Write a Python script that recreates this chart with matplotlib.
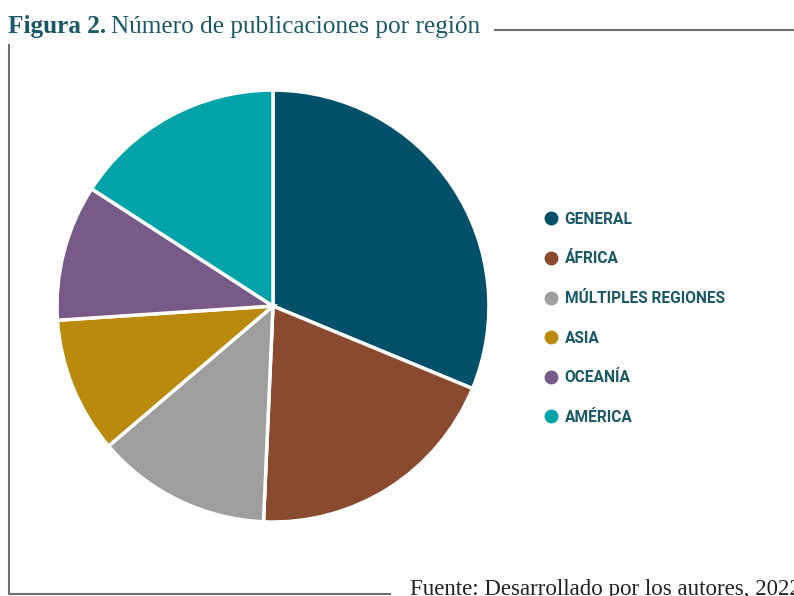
import matplotlib

matplotlib.use("Agg")

import matplotlib.pyplot as plt
from matplotlib.lines import Line2D

# datos (porcentaje aproximado por región)
regiones = ["GENERAL", "ÁFRICA", "MÚLTIPLES REGIONES", "ASIA", "OCEANÍA", "AMÉRICA"]
valores = [31.3, 19.5, 13.1, 10.2, 10.2, 15.9]
colores = ["#00506a", "#8a4a2f", "#9e9e9c", "#b98a0c", "#775a88", "#00a3a8"]

titulo_bold = "Figura 2."
titulo = "Número de publicaciones por región"
fuente = "Fuente: Desarrollado por los autores, 2022"

TEAL = "#1a5868"
GRIS = "#707070"

fig = plt.figure(figsize=(7.94, 5.96), dpi=100)

ax = fig.add_axes([0.0718, 0.124, 0.544, 0.725])
ax.pie(
	valores,
	colors=colores,
	startangle=90,
	counterclock=False,
	radius=1.0,
	wedgeprops=dict(edgecolor="white", linewidth=2.5),
)
ax.set_xlim(-1.0, 1.0)
ax.set_ylim(-1.0, 1.0)
ax.set_aspect("equal")
ax.axis("off")

handles = [
	Line2D([], [], marker="o", linestyle="none", markersize=9, markerfacecolor=c, markeredgecolor=c)
	for c in colores
]
leg = fig.legend(
	handles,
	regiones,
	loc="upper left",
	bbox_to_anchor=(0.669, 0.668),
	frameon=False,
	handlelength=0.8,
	handletextpad=0.45,
	labelspacing=1.58,
	prop=dict(family="Roboto", weight="bold", size=11.2),
)
for t in leg.get_texts():
	t.set_color(TEAL)

# título
t1 = fig.text(0.010, 0.945, titulo_bold, ha="left", va="baseline", fontsize=18.2,
	fontweight="bold", family="Liberation Serif", color=TEAL)
fig.canvas.draw()
bb = t1.get_window_extent()
x_next = bb.x1 / fig.bbox.width + 0.006
fig.text(x_next, 0.945, titulo, ha="left", va="baseline", fontsize=18.2,
	family="Liberation Serif", color=TEAL)

# marco
fig.add_artist(Line2D([0.623, 1.0], [0.950, 0.950], color=GRIS, linewidth=1.5))
fig.add_artist(Line2D([0.0113, 0.0113], [0.924, 0.003], color=GRIS, linewidth=1.5))
fig.add_artist(Line2D([0.0113, 0.491], [0.003, 0.003], color=GRIS, linewidth=1.5))

# la fuente queda cortada en el borde, igual que en el original
fig.text(0.516, 0.001, fuente, ha="left", va="baseline", fontsize=16.5,
	family="Liberation Serif", color="#222222")

fig.savefig("out.png", dpi=100)
